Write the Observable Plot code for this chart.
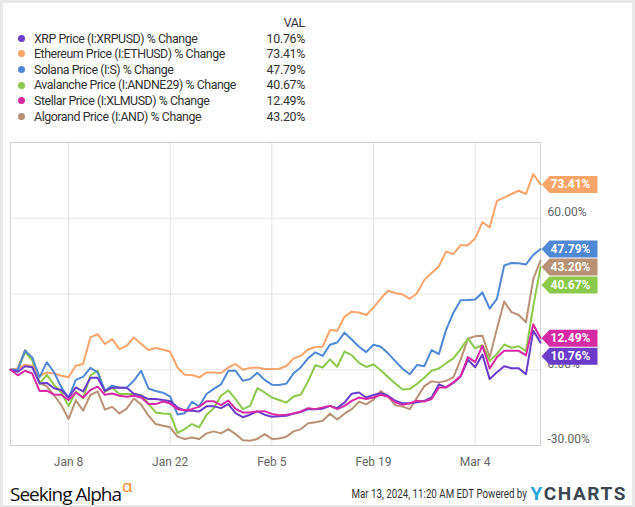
<!DOCTYPE html>
<html><head><meta charset="utf-8">
<script src="https://cdn.jsdelivr.net/npm/d3@7"></script>
<script src="https://cdn.jsdelivr.net/npm/@observablehq/plot@0.6"></script>
<style>
html,body{margin:0;padding:0;background:#e8e8e8;}
#wrap{position:relative;width:635px;height:507px;font-family:Roboto,sans-serif;overflow:hidden;}
#card{position:absolute;left:3px;top:3px;width:629px;height:502px;background:#fff;}
#legend{position:absolute;left:0;top:15px;width:320px;font-size:12.4px;line-height:15.6px;color:#333;}
.row{position:relative;height:15.6px;}
.dot{position:absolute;left:17.5px;top:4.3px;width:7px;height:7px;border-radius:50%;}
.name{position:absolute;left:34px;top:0;white-space:nowrap;letter-spacing:-0.45px;}
.val{position:absolute;right:15px;top:0;text-align:right;letter-spacing:-0.3px;}
#chart{position:absolute;left:0;top:130px;}
#sa{position:absolute;left:10px;top:476px;font-family:"Open Sans",sans-serif;font-weight:400;font-size:19px;color:#111;letter-spacing:-1px;}
#sa sup{color:#f58a1f;font-size:17px;position:relative;top:-2px;margin-left:1px;}
#stamp{position:absolute;right:108px;top:486px;font-family:Roboto,sans-serif;font-size:12.5px;color:#333;white-space:nowrap;transform:scaleX(0.78);transform-origin:right center;}
#yc{position:absolute;right:8px;top:482px;font-family:Roboto,sans-serif;font-weight:bold;font-size:19px;letter-spacing:1.6px;color:#3b4751;}
#yc span{color:#2aa4dd;}
</style></head>
<body>
<div id="wrap">
  <div id="card"></div>
  <div id="legend"></div>
  <div id="chart"></div>
  <div id="sa">Seeking Alpha<sup>α</sup></div>
  <div id="stamp">Mar 13, 2024, 11:20 AM EDT Powered by</div>
  <div id="yc"><span>Y</span>CHARTS</div>
</div>
<script>
// ---- data ----
const startDate = "2023-12-31";
const endDate = "2024-03-13";
const seriesNames = [
  "XRP Price (I:XRPUSD) % Change",
  "Ethereum Price (I:ETHUSD) % Change",
  "Solana Price (I:S) % Change",
  "Avalanche Price (I:ANDNE29) % Change",
  "Stellar Price (I:XLMUSD) % Change",
  "Algorand Price (I:AND) % Change"
];
const seriesColors = ["#6a3cca", "#f8a56c", "#5188d6", "#8cc84b", "#d62aa5", "#b89276"];
const finalValues = [10.76, 73.41, 47.79, 40.67, 12.49, 43.20];

const xrp = [0, -0.8, 1.4, 1, -5.3, -5.2, -7.3, -8, -11, -7,
 -8.6, -3.2, -3.2, -8.4, -7.1, -7.1, -7.1, -9.5, -10.3, -11.6,
 -11.6, -12, -12.5, -14.9, -16.2, -16.2, -16.5, -14.5, -14.5, -15.2,
 -13.6, -17.2, -18.8, -17.8, -16.5, -17.8, -18.6, -18.4, -18.2, -17.3,
 -16.7, -15.6, -15.6, -15.4, -14.3, -15.2, -13, -9.5, -9, -11,
 -10, -9.3, -10.3, -12.3, -13.3, -13.3, -12.9, -12.3, -11, -5.8,
 -7, -5.2, -2.7, 4, 1, 6, -3.7, -1, 1.4, 0.6,
 0.6, -1.8, 15.5, 10.76];
const eth = [0, 0.5, 2, 1.6, -2.4, -1.1, -1.5, -2.4, -3, 1.6,
 2.3, 12.8, 14.1, 10.2, 12.1, 8.2, 9.5, 12.8, 10.2, 7.8,
 8.6, 8, 7.1, 0.9, -2, -2.1, -3, -1.1, -1.1, -1.3,
 0.9, 2.3, 0, 0.7, 0.9, 0.3, 0.3, 0.4, 1.5, 4.5,
 5.6, 8, 9, 9.1, 15.7, 15.4, 21, 23, 22.7, 21.7,
 24.7, 28.2, 31.3, 30.4, 29.8, 28.1, 30.3, 35.6, 38.3, 41,
 46.8, 45.8, 49.3, 49.3, 52, 58.4, 56.4, 66.9, 68.2, 69.6,
 70.9, 69.6, 77.5, 73.41];
const sol = [0, 0, 7.5, 4.9, -3, 3, -1, -7, -11.1, -4,
 -2.8, 0.7, -1, -8.3, -6.3, -7.1, -7.1, -4.3, -0.4, -7.4,
 -8.4, -9.1, -10.6, -17.7, -17.2, -12.7, -14.5, -9.6, -7.6, -5.8,
 -0.4, -0.4, -4.4, -3.7, -1.2, -4, -5.9, -6, -5.5, -1.4,
 1, 4.6, 6.9, 5.5, 9.9, 10.8, 14.7, 12, 9.1, 7,
 9.9, 9.1, 6.5, 3.4, 0.4, -1.8, 1.9, 1.4, 7.8, 6.2,
 15.8, 22.6, 27.5, 27.6, 27.8, 30.6, 24.2, 28.1, 41.3, 42.3,
 42.2, 41.7, 45.5, 47.79];
const avax = [0, 0, 7, 3.8, -5.5, -2, -6, -9, -14.4, -8.6,
 -11.3, -2.4, -0.3, -8.8, -7.1, -9.6, -9.6, -9.6, -10, -13.5,
 -16.9, -17.3, -17.5, -25, -23.5, -21.5, -22.8, -17.8, -15.2, -10.3,
 -8.2, -11.6, -15.6, -14.3, -7.3, -9, -11, -12, -13, -10.6,
 -9.8, -4.5, 1.8, 0.9, 4.1, 1.2, 7.2, 5.8, 2.7, 1.1,
 2.1, -0.2, -2.9, -5.4, -7.8, -7.6, -5.6, -3.2, -0.4, 0.5,
 2.6, 4.5, 8.2, 12.4, 8.5, 9.7, 3.5, 6.3, 10, 8.7,
 9.3, 7.4, 25, 40.67];
const xlm = [0, -2.2, -0.4, -1.5, -8.4, -8.3, -9.9, -9.9, -12, -9,
 -11, -8, -6.7, -9.9, -9.4, -10.3, -10.7, -10.3, -11, -13.6,
 -13.6, -12.6, -13.4, -15.6, -16, -15.6, -14.6, -12.5, -12.5, -14,
 -12.2, -15.5, -16.9, -16.9, -16.5, -16.4, -17.5, -18, -17.8, -17.3,
 -16.5, -15.2, -15.6, -14.9, -14.3, -15.6, -14.3, -12.3, -11, -11.6,
 -11, -9.9, -10.7, -12.9, -13.9, -13.3, -12.3, -12.6, -11.6, -7,
 -7, -5, -2.5, 5, 3, 9.5, 0.5, 5, 7.5, 7.5,
 7.5, 5.7, 18, 12.49];
const algo = [0, 0.5, 7.8, 4.2, -5.3, -6.6, -10.1, -14, -19.5, -12.1,
 -16.2, -10, -8.6, -15.8, -14.7, -17.3, -15.4, -11.4, -13.8, -18.2,
 -21.5, -22.2, -22.8, -26.5, -27.4, -26.8, -27.4, -25.2, -24.4, -25.2,
 -23.5, -25.5, -27.9, -28.1, -27.4, -25.5, -27.4, -27.2, -26.5, -24.4,
 -23.5, -21.2, -20.8, -20.2, -17.4, -19.7, -17.4, -15.6, -12.7, -13.7,
 -11.8, -8.4, -10.5, -14.1, -14.6, -15.6, -11, -6.5, -4.6, -5,
 -4.4, -3, 4, 12.3, 13.3, 13.5, 4.9, 16.2, 27, 22.8,
 21.7, 18.8, 35.9, 43.2];
const seriesValues = [xrp, eth, sol, avax, xlm, algo];

const xTickDates = ["2024-01-08", "2024-01-22", "2024-02-05", "2024-02-19", "2024-03-04"];
const yTickValues = [-30, 0, 60];
const yGridValues = [0, 30, 60];
const yDomain = [-30, 90];

// ---- legend ----
const legend = document.getElementById("legend");
legend.innerHTML = `<div class="row"><span class="val">VAL</span></div>` +
  seriesNames.map((n, i) => `<div class="row"><span class="dot" style="background:${seriesColors[i]}"></span><span class="name">${n}</span><span class="val">${finalValues[i].toFixed(2)}%</span></div>`).join("");

// ---- chart ----
const parse = d3.utcParse("%Y-%m-%d");
const dates = d3.utcDay.range(parse(startDate), d3.utcDay.offset(parse(endDate), 1));
const drawOrder = [5, 3, 1, 2, 0, 4];
const table = [];
for (const i of drawOrder) {
  seriesValues[i].forEach((v, k) => table.push({date: dates[k], value: v, name: seriesNames[i], color: seriesColors[i]}));
}
const lastDate = dates[dates.length - 1];

const W = 635, H = 350, mt = 12, mb = 35, ml = 10, mr = 95;
let yScale;
try { yScale = Plot.scale({y: {domain: yDomain, range: [H - mb, mt]}}); }
catch (e) { const s = d3.scaleLinear(yDomain, [H - mb, mt]); yScale = {apply: s, invert: s.invert}; }

// dodge the end labels so they do not overlap
const labels = seriesNames.map((n, i) => ({name: n, value: finalValues[i], color: seriesColors[i], date: lastDate}))
  .sort((a, b) => b.value - a.value);
let prev = -Infinity;
for (const l of labels) {
  let p = yScale.apply(l.value);
  if (p < prev + 18) p = prev + 18;
  l.py = p; prev = p;
  l.ly = yScale.invert(p);
}

const flag = {draw(ctx) {
  ctx.moveTo(1, 0); ctx.lineTo(9, -8.5); ctx.lineTo(57, -8.5); ctx.lineTo(57, 8.5); ctx.lineTo(9, 8.5); ctx.closePath();
}};

const chart = Plot.plot({
  width: W, height: H,
  marginTop: mt, marginBottom: mb, marginLeft: ml, marginRight: mr,
  style: {fontFamily: "Roboto, sans-serif", fontSize: "12px", color: "#666", background: "transparent"},
  x: {type: "utc", domain: [dates[0], lastDate]},
  y: {domain: yDomain},
  marks: [
    Plot.gridX(xTickDates.map(parse), {stroke: "#e3e3e3", strokeOpacity: 1}),
    Plot.gridY(yGridValues, {stroke: "#e8e8e8", strokeOpacity: 1, strokeWidth: 1.2}),
    Plot.frame({stroke: "#d2d2d2"}),
    Plot.line(table, {x: "date", y: "value", z: "name", stroke: "color", strokeWidth: 2}),
    Plot.axisX(xTickDates.map(parse), {tickSize: 0, tickPadding: 12, tickFormat: d3.utcFormat("%b %-d"), fill: "#666", fontSize: 12}),
    Plot.axisY(yTickValues, {anchor: "right", tickSize: 0, tickPadding: 7, dy: -6, tickFormat: d => d.toFixed(2) + "%", fill: "#666", fontSize: 12}),
    Plot.dot(labels, {x: "date", y: "ly", symbol: flag, fill: "color", stroke: "none"}),
    Plot.text(labels, {x: "date", y: "ly", text: d => d.value.toFixed(2) + "%", dx: 10, textAnchor: "start", fill: "white", fontWeight: "bold", fontSize: 12, letterSpacing: "0.5px"})
  ]
});
document.getElementById("chart").appendChild(chart);
</script>
</body></html>
